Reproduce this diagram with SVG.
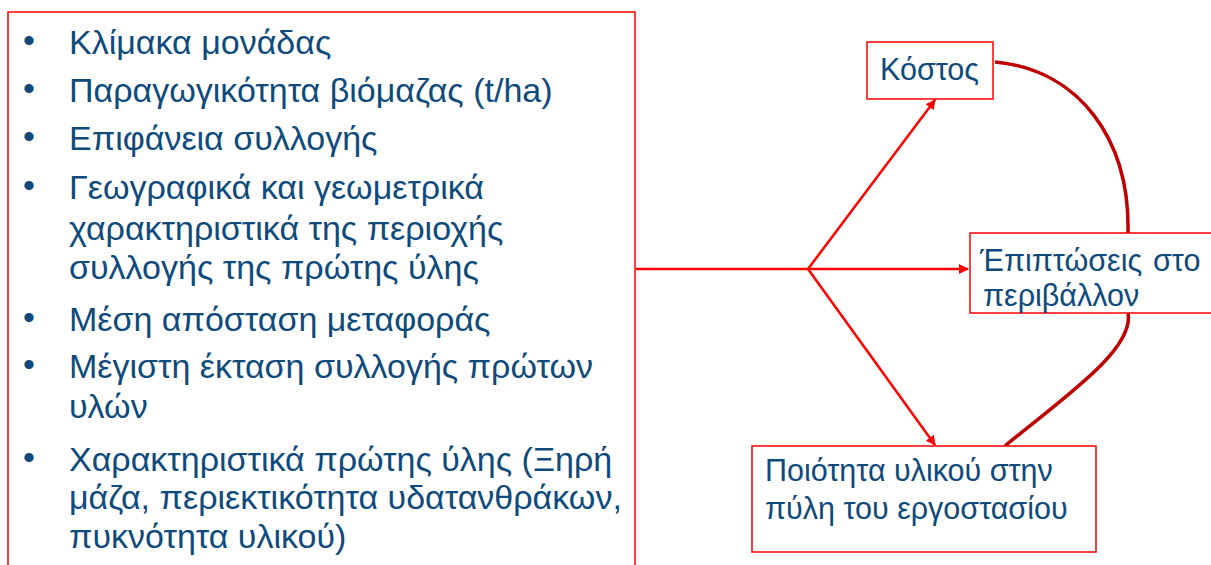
<svg xmlns="http://www.w3.org/2000/svg" width="1211" height="565" viewBox="0 0 1211 565">
  <style>
    .box { fill: #ffffff; stroke: #ff0000; stroke-width: 1.5; }
    .txt { font-family: "Liberation Sans", Arial, sans-serif; fill: #0e4a7b; }
    .list { font-size: 34px; }
    .bullet { font-size: 34px; }
    .lbl { font-size: 30.5px; }
    .arrow { stroke: #ff0000; stroke-width: 2.5; fill: none; }
    .link { stroke: #c00000; stroke-width: 3.5; fill: none; }
  </style>
  <defs>
    <marker id="head" viewBox="0 0 10 10" refX="9" refY="5" markerWidth="4" markerHeight="4" orient="auto" markerUnits="strokeWidth">
      <path d="M0,0 L10,5 L0,10 z" fill="#ff0000"/>
    </marker>
  </defs>
  <rect width="1211" height="565" fill="#ffffff"/>

  <!-- Factor list -->
  <g id="factors">
    <rect class="box" x="8" y="12" width="627" height="570"/>
    <g class="txt">
      <g class="bullet">
        <text x="23" y="52">•</text>
        <text x="23" y="100">•</text>
        <text x="23" y="148">•</text>
        <text x="23" y="197">•</text>
        <text x="23" y="329">•</text>
        <text x="23" y="376">•</text>
        <text x="23" y="469">•</text>
      </g>
      <g class="list">
        <text x="69" y="54">Κλίμακα μονάδας</text>
        <text x="69" y="102">Παραγωγικότητα βιόμαζας (t/ha)</text>
        <text x="69" y="150">Επιφάνεια συλλογής</text>
        <text x="69" y="199">Γεωγραφικά και γεωμετρικά</text>
        <text x="69" y="240">χαρακτηριστικά της περιοχής</text>
        <text x="69" y="279">συλλογής της πρώτης ύλης</text>
        <text x="69" y="331">Μέση απόσταση μεταφοράς</text>
        <text x="69" y="378">Μέγιστη έκταση συλλογής πρώτων</text>
        <text x="69" y="418">υλών</text>
        <text x="69" y="471">Χαρακτηριστικά πρώτης ύλης (Ξηρή</text>
        <text x="69" y="509">μάζα, περιεκτικότητα υδατανθράκων,</text>
        <text x="69" y="548">πυκνότητα υλικού)</text>
      </g>
    </g>
  </g>

  <!-- Connectors -->
  <g id="connectors">
    <path class="arrow" d="M636,269 L968,269" marker-end="url(#head)"/>
    <path class="arrow" d="M808,269 L935,100" marker-end="url(#head)"/>
    <path class="arrow" d="M808,269 L935,445" marker-end="url(#head)"/>
    <path class="link" d="M995,62 C1080,70 1130,140 1128,233"/>
    <path class="link" d="M1128,313 C1135,350 1060,400 1005,446"/>
  </g>

  <g id="cost">
    <rect class="box" x="867" y="42" width="126" height="57"/>
    <text class="txt lbl" x="880" y="80">Κόστος</text>
  </g>

  <g id="environment">
    <rect class="box" x="970" y="233" width="250" height="80"/>
    <text class="txt lbl" x="980" y="271">Έπιπτώσεις <tspan x="1153">στο</tspan></text>
    <text class="txt lbl" x="983" y="306">περιβάλλον</text>
  </g>

  <g id="quality">
    <rect class="box" x="752" y="446" width="344" height="106"/>
    <text class="txt lbl" x="765" y="481">Ποιότητα υλικού στην</text>
    <text class="txt lbl" x="765" y="519">πύλη του εργοστασίου</text>
  </g>
</svg>
